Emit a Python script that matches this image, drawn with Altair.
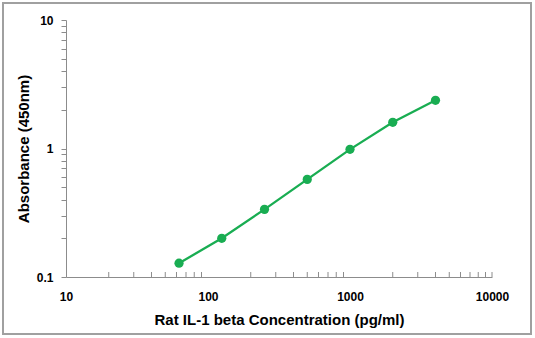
import altair as alt
import pandas as pd

conc = [62.5, 125, 250, 500, 1000, 2000, 4000]
absorb = [0.128, 0.200, 0.336, 0.575, 0.985, 1.60, 2.37]
x_ticks = [20, 30, 40, 50, 60, 70, 80, 90,
           200, 300, 400, 500, 600, 700, 800, 900,
           2000, 3000, 4000, 5000, 6000, 7000, 8000, 9000, 10000]
x_labels = [10, 100, 1000, 10000]
y_ticks = [0.1, 0.2, 0.3, 0.4, 0.5, 0.6, 0.7, 0.8, 0.9,
           1, 2, 3, 4, 5, 6, 7, 8, 9, 10]

GREEN = "#19ad52"
FONT = "Liberation Sans"

df = pd.DataFrame({"conc": conc, "abs": absorb})
xscale = alt.Scale(type="log", domain=[10, 10000])
yscale = alt.Scale(type="log", domain=[0.1, 10])

xaxis = alt.Axis(values=x_labels, format="~g", ticks=False, grid=False,
                 labelFlush=False,
                 labelPadding=14, labelFontSize=12, labelFont=FONT,
                 labelFontWeight="bold", labelColor="black",
                 title="Rat IL-1 beta Concentration (pg/ml)", titleFont=FONT,
                 titleFontSize=15, titleFontWeight="bold", titleColor="black",
                 titlePadding=10, domainColor="#8c8c8c", domainWidth=1)
yaxis = alt.Axis(values=y_ticks, format="~g",
                 labelExpr="(datum.value == 0.1 || datum.value == 1 || datum.value == 10) ? datum.label : ''",
                 labelFlush=False,
                 tickSize=5, tickColor="#8c8c8c", grid=False,
                 labelPadding=8, labelFontSize=12, labelFont=FONT,
                 labelFontWeight="bold", labelColor="black",
                 title="Absorbance (450nm)", titleFont=FONT,
                 titleFontSize=15, titleFontWeight="bold", titleColor="black",
                 titlePadding=5, domainColor="#8c8c8c", domainWidth=1)

base = alt.Chart(df)
line = base.mark_line(color=GREEN, strokeWidth=2.3).encode(
    x=alt.X("conc:Q", scale=xscale, axis=xaxis),
    y=alt.Y("abs:Q", scale=yscale, axis=yaxis),
)
pts = base.mark_circle(color=GREEN, size=85, opacity=1).encode(
    x=alt.X("conc:Q", scale=xscale),
    y=alt.Y("abs:Q", scale=yscale),
)
ticks = alt.Chart(pd.DataFrame({"conc": x_ticks})).mark_rule(
    color="#8c8c8c", strokeWidth=1
).encode(
    x=alt.X("conc:Q", scale=xscale),
    y=alt.value(257), y2=alt.value(252),
)
frame = alt.Chart(pd.DataFrame({"a": [0]})).mark_rect(
    fill=None, stroke="#a0a0a0", strokeWidth=2, clip=False
).encode(
    x=alt.value(-63), x2=alt.value(465),
    y=alt.value(-17), y2=alt.value(314),
)

chart = alt.layer(frame, ticks, line, pts).properties(
    width=426, height=257,
    autosize=alt.AutoSizeParams(type="none"),
    padding={"left": 66, "top": 20, "right": 43, "bottom": 61},
    background="white",
).configure_view(stroke=None)

chart.save("out.html", embed_options={"renderer": "svg", "actions": False})
